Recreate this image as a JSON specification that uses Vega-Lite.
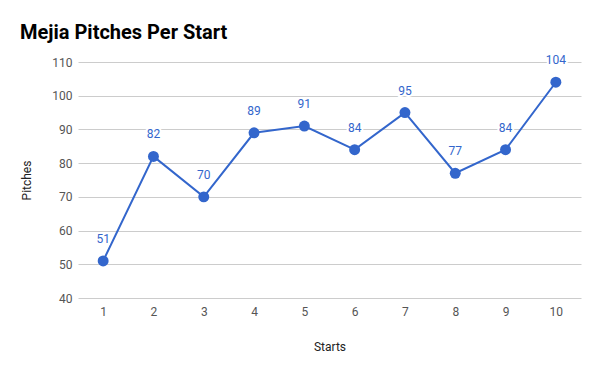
{
  "$schema": "https://vega.github.io/schema/vega-lite/v6.json",
  "autosize": "none",
  "width": 503,
  "height": 236,
  "padding": {"left": 78, "top": 62, "right": 19, "bottom": 73},
  "background": "white",
  "config": {
    "font": "Roboto",
    "view": {"stroke": null}
  },
  "title": {
    "text": "Mejia Pitches Per Start",
    "anchor": "start",
    "frame": "group",
    "dx": -58,
    "offset": 11,
    "fontSize": 20,
    "fontWeight": "bold",
    "color": "#000000",
    "font": "Roboto"
  },
  "data": {
    "values": [
      {"start": 1, "pitches": 51},
      {"start": 2, "pitches": 82},
      {"start": 3, "pitches": 70},
      {"start": 4, "pitches": 89},
      {"start": 5, "pitches": 91},
      {"start": 6, "pitches": 84},
      {"start": 7, "pitches": 95},
      {"start": 8, "pitches": 77},
      {"start": 9, "pitches": 84},
      {"start": 10, "pitches": 104}
    ]
  },
  "encoding": {
    "x": {
      "field": "start",
      "type": "ordinal",
      "scale": {"type": "point", "padding": 0.5},
      "axis": {
        "title": "Starts",
        "titleFontSize": 12,
        "titleFontWeight": "normal",
        "titleColor": "#222222",
        "titlePadding": 24,
        "labelAngle": 0,
        "labelFontSize": 12,
        "labelColor": "#555555",
        "labelPadding": 8,
        "ticks": false,
        "domain": false,
        "grid": false
      }
    },
    "y": {
      "field": "pitches",
      "type": "quantitative",
      "scale": {"domain": [40, 110], "nice": false, "zero": false},
      "axis": {
        "title": "Pitches",
        "titleFontSize": 12,
        "titleFontWeight": "normal",
        "titleColor": "#222222",
        "titlePadding": 18,
        "values": [40, 50, 60, 70, 80, 90, 100, 110],
        "labelFontSize": 12,
        "labelColor": "#555555",
        "labelPadding": 6,
        "ticks": false,
        "domain": false,
        "grid": true,
        "gridColor": "#cccccc"
      }
    }
  },
  "layer": [
    {"mark": {"type": "line", "color": "#3366cc", "strokeWidth": 2}},
    {"mark": {"type": "point", "filled": true, "opacity": 1, "color": "#3366cc", "size": 120}},
    {
      "mark": {"type": "text", "dy": -22, "fontSize": 12, "color": "#3366cc", "stroke": "white", "strokeWidth": 4, "strokeOpacity": 1},
      "encoding": {"text": {"field": "pitches", "type": "quantitative"}}
    },
    {
      "mark": {"type": "text", "dy": -22, "fontSize": 12, "color": "#3366cc"},
      "encoding": {"text": {"field": "pitches", "type": "quantitative"}}
    }
  ]
}
